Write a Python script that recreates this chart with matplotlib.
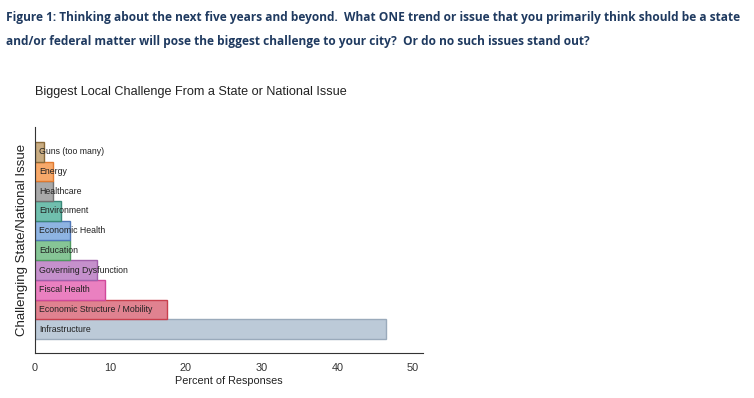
import matplotlib.pyplot as plt
import numpy as np

# issues from bottom (largest) to top
issues = ["Infrastructure", "Economic Structure / Mobility", "Fiscal Health",
          "Governing Dysfunction", "Education", "Economic Health",
          "Environment", "Healthcare", "Energy", "Guns (too many)"]
percents = [46.4, 17.5, 9.3, 8.2, 4.7, 4.7, 3.5, 2.4, 2.4, 1.2]
fills = ["#bccad8", "#e08290", "#ea80c0", "#c590cc", "#86c596",
         "#8eb4e2", "#70bfae", "#a9a9a9", "#f7a96a", "#c9ac82"]
edges = ["#9aaabb", "#c8404e", "#d0489a", "#a060aa", "#4e9a60",
         "#5078b8", "#3a8878", "#707070", "#e07a30", "#8a6a3a"]

fig = plt.figure(figsize=(7.54, 3.98), dpi=100)
ax = fig.add_axes([0.0458, 0.113, 0.515, 0.568])

y = np.arange(len(issues))
ax.barh(y, percents, height=1.0, color=fills, edgecolor=edges, linewidth=1.0)
for yi, name in zip(y, issues):
    ax.text(0.6, yi, name, va="center", ha="left", fontsize=6.3,
            color="#222222", family="Liberation Sans")

ax.set_xlim(0, 51.3)
ax.set_ylim(-1.2, 10.25)
ax.set_xticks([0, 10, 20, 30, 40, 50])
ax.set_yticks([])
ax.tick_params(axis="x", length=0, pad=7, labelsize=7.8, labelcolor="#333333")
for lab in ax.get_xticklabels():
    lab.set_family("Liberation Sans")
for s in ["top", "right"]:
    ax.spines[s].set_visible(False)
ax.spines["left"].set_color("#333333")
ax.spines["bottom"].set_color("#333333")
ax.set_xlabel("Percent of Responses", fontsize=7.8, family="Liberation Sans",
              color="#222222", labelpad=2)
ax.set_ylabel("Challenging State/National Issue", fontsize=9.5,
              family="Liberation Sans", color="#222222", labelpad=5)

fig.text(0.008, 0.955, "Figure 1: Thinking about the next five years and beyond.  What ONE trend or issue that you primarily think should be a state",
         fontsize=8.6, fontweight="bold", color="#1f3a60", family="Open Sans", va="center")
fig.text(0.008, 0.895, "and/or federal matter will pose the biggest challenge to your city?  Or do no such issues stand out?",
         fontsize=8.6, fontweight="bold", color="#1f3a60", family="Open Sans", va="center")
fig.text(0.046, 0.768, "Biggest Local Challenge From a State or National Issue",
         fontsize=9.1, color="#222222", family="Liberation Sans", va="center")

fig.savefig("out.png", dpi=100)
